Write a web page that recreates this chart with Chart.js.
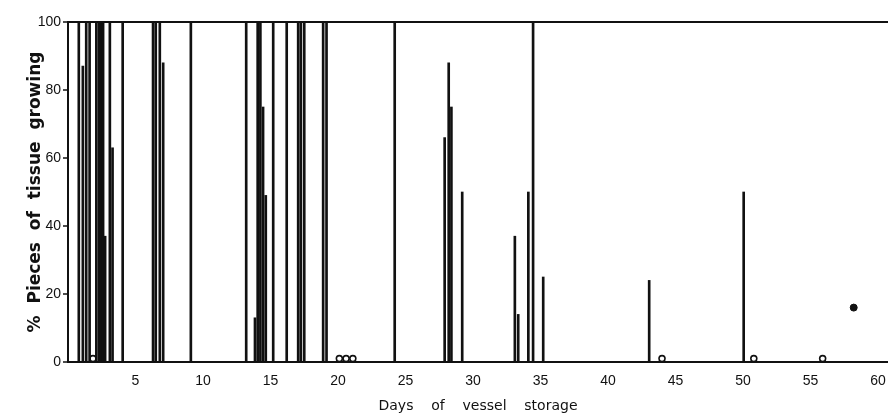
<!DOCTYPE html>
<html>
<head>
<meta charset="utf-8">
<script src="https://cdn.jsdelivr.net/npm/chart.js@4/dist/chart.umd.min.js"></script>
<style>
    body { margin: 0; background: #fff; }
    #wrap { width: 888px; height: 417px; }
</style>
</head>
<body>
<div id="wrap"><canvas id="chart" width="888" height="417"></canvas></div>
<script>
// days of storage for each growth line, and % of pieces growing
const barDays = [0.8, 1.1, 1.35, 1.6, 2.1, 2.3, 2.45, 2.6, 2.75, 3.1, 3.3, 4.05,
    6.3, 6.5, 6.8, 7.05, 9.1,
    13.2, 13.85, 14.05, 14.25, 14.45, 14.65, 15.2, 16.2, 17.05, 17.25, 17.5, 18.9, 19.15,
    24.2, 27.9, 28.2, 28.4, 29.2, 33.1, 33.35, 34.1, 34.45, 35.2, 43.05, 50.05];
const barPercent = [100, 87, 100, 100, 100, 100, 100, 100, 37, 100, 63, 100,
    100, 100, 100, 88, 100,
    100, 13, 100, 100, 75, 49, 100, 100, 100, 100, 100, 100, 100,
    100, 66, 88, 75, 50, 37, 14, 50, 100, 25, 24, 50];

// no growth (open circles on the base line)
const zeroDays = [1.85, 20.1, 20.6, 21.1, 44.0, 50.8, 55.9];
const zeroPercent = [1, 1, 1, 1, 1, 1, 1];

// single filled point
const dotDays = [58.2];
const dotPercent = [16];

const xTickValues = [5, 10, 15, 20, 25, 30, 35, 40, 45, 50, 55, 60];
const yTickValues = [0, 20, 40, 60, 80, 100];

const toPoints = (xs, ys) => xs.map((x, i) => ({ x: x, y: ys[i] }));

const ctx = document.getElementById('chart').getContext('2d');
new Chart(ctx, {
    type: 'bar',
    data: {
        datasets: [
            {
                label: 'Growing',
                data: toPoints(barDays, barPercent),
                backgroundColor: '#111',
                borderWidth: 0,
                barThickness: 2,
                grouped: false
            },
            {
                type: 'scatter',
                label: 'None',
                data: toPoints(zeroDays, zeroPercent),
                pointRadius: 3,
                pointBorderWidth: 1.6,
                borderColor: '#111',
                backgroundColor: '#fff'
            },
            {
                type: 'scatter',
                label: 'Dot',
                data: toPoints(dotDays, dotPercent),
                pointRadius: 3.5,
                borderColor: '#111',
                backgroundColor: '#111'
            }
        ]
    },
    options: {
        responsive: false,
        animation: false,
        layout: { padding: { top: 22, left: 0, right: 0, bottom: 0 }, autoPadding: false },
        plugins: {
            legend: { display: false },
            tooltip: { enabled: false }
        },
        scales: {
            x: {
                type: 'linear',
                min: 0,
                max: 60.74,
                offset: false,
                grid: { display: false, offset: false },
                border: { display: true, color: '#111', width: 2 },
                afterBuildTicks: scale => { scale.ticks = xTickValues.map(v => ({ value: v })); },
                afterFit: scale => {
                    scale.height = 55;
                    scale.paddingLeft = 0;
                    scale.paddingRight = 0;
                },
                ticks: {
                    autoSkip: false,
                    maxRotation: 0,
                    padding: 3,
                    color: '#111',
                    font: { family: 'Liberation Sans', size: 14 }
                },
                title: {
                    display: true,
                    text: 'Days    of    vessel    storage',
                    color: '#111',
                    padding: { top: 0, bottom: 2 },
                    font: { family: 'DejaVu Sans', size: 14 }
                }
            },
            y: {
                min: 0,
                max: 100,
                afterBuildTicks: scale => { scale.ticks = yTickValues.map(v => ({ value: v })); },
                afterFit: scale => { scale.width = 68; },
                grid: {
                    color: c => (c.tick && c.tick.value === 100) ? '#111' : 'rgba(0,0,0,0)',
                    lineWidth: 2,
                    tickColor: '#111',
                    tickLength: 5,
                    tickWidth: 1.5
                },
                border: { display: true, color: '#111', width: 2 },
                ticks: {
                    padding: 2,
                    color: '#111',
                    font: { family: 'Liberation Sans', size: 14 }
                },
                title: {
                    display: true,
                    text: '%  Pieces  of  tissue  growing',
                    color: '#111',
                    padding: { top: 25, bottom: 0 },
                    font: { family: 'DejaVu Sans', size: 17, weight: 'bold' }
                }
            }
        }
    }
});
</script>
</body>
</html>
